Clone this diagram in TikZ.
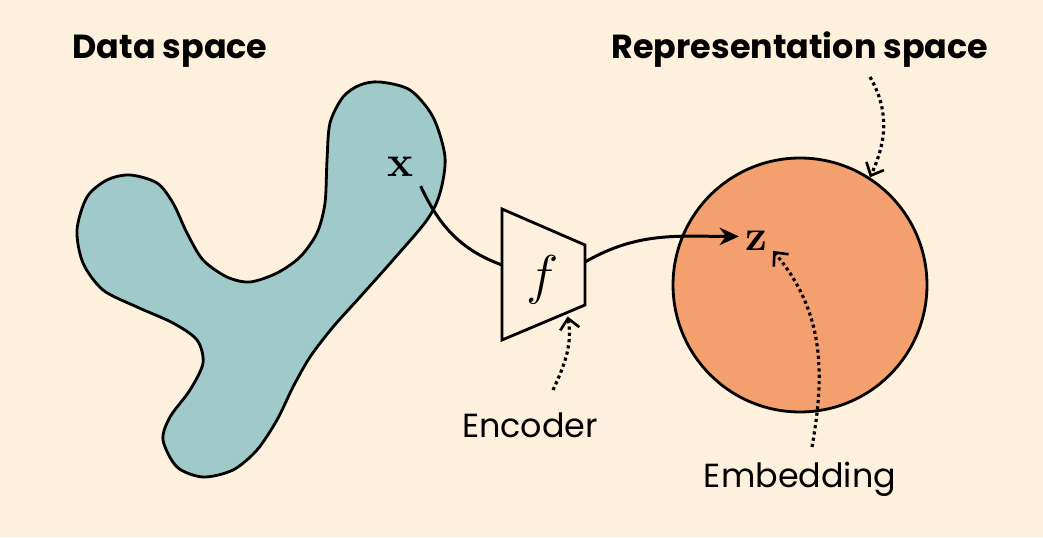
\documentclass[tikz,border=0pt]{standalone}
\usepackage[no-math]{fontspec}
\setmainfont{Poppins}
\usepackage{xcolor}
\usetikzlibrary{arrows.meta}
\definecolor{cream}{HTML}{FDF0DC}
\definecolor{blobteal}{HTML}{A0C9C9}
\definecolor{peach}{HTML}{F4A06E}
\tikzset{
  outline/.style={line width=1.6pt},
  pointer/.style={line width=1.8pt,dash pattern=on 1.8pt off 1.8pt,
    -{Straight Barb[length=6pt,width=11pt,line width=1.5pt]}},
  flow/.style={line width=1.7pt},
  title/.style={font=\fontsize{19}{23}\selectfont\bfseries,anchor=base},
  note/.style={font=\fontsize{19}{23}\selectfont,anchor=base},
  symbol/.style={font=\fontsize{24.88}{30}\selectfont}
}

\begin{document}
\begin{tikzpicture}[x=0.02cm,y=0.02cm]
   \fill[cream] (0,0) rectangle (1043,537);
   \useasboundingbox (0,0) rectangle (1043,537);

   % data space
   \draw[outline,fill=blobteal] plot[smooth cycle,tension=0.5] coordinates {
     (380,455) (410,447) (433,420) (445,380) (440,344) (427,317) (393,277)
     (360,240) (333,210) (310,180) (293,150) (277,117) (257,87) (233,67)
     (203,60) (177,70) (163,97) (170,120) (190,147) (203,174) (197,197)
     (173,214) (137,230) (103,247) (83,274) (77,307) (87,340) (107,357)
     (130,362) (157,354) (173,334) (187,304) (203,277) (227,260) (250,255)
     (277,264) (300,280) (317,304) (325,334) (327,377) (330,414) (343,440)
     (360,452)};
   \draw (170,478) node[title] (datatitle) {Data space};
   \draw (400,370) node[symbol] (x) {$\mathbf{x}$};

   % encoder
   \draw[outline] (502,328) coordinate (encTL) -- (585,292) coordinate (encTR)
     -- (585,232) coordinate (encBR) -- (502,197) coordinate (encBL) -- cycle;
   \coordinate (encin) at (502,272);
   \coordinate (encout) at (585,275);
   \coordinate (encbase) at (567,224);
   \draw (543,257) node[symbol] (f) {\scalebox{1.25}{$f$}};
   \draw (530,99) node[note] (enctext) {Encoder};

   % representation space
   \draw (800,252) node[circle,outline,draw,fill=peach,minimum size=5.08cm] (sphere) {};
   \draw (800,478) node[title] (reptitle) {Representation space};
   \draw (756,296) node[symbol] (z) {$\mathbf{z}$};
   \draw (800,50) node[note] (embtext) {Embedding};

   \coordinate (repfrom) at (870,460);
   \coordinate (encfrom) at (553,147);
   \coordinate (embfrom) at (812,90);

   \draw[flow,shorten <=2pt] (x.south east) to[out=-65,in=160] (encin);
   \draw[flow,-{Stealth[length=11pt,width=10pt]}] (encout) to[out=30,in=180] (z.165);

   \draw[pointer] (repfrom) to[out=-60,in=65] (sphere.57);
   \draw[pointer,shorten >=2pt] (encfrom) to[out=65,in=-80] (encbase);
   \draw[pointer] (embfrom) to[out=80,in=-50] (z.-30);
\end{tikzpicture}
\end{document}
